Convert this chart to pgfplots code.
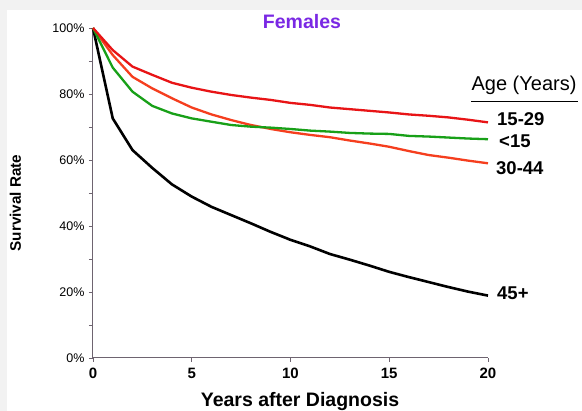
\documentclass[border=0pt]{standalone}
\usepackage{pgfplots}
\pgfplotsset{compat=1.18}
\usepackage{fontspec}
\setmainfont{Liberation Sans}
\definecolor{axgray}{RGB}{110,100,112}
\definecolor{c1529}{RGB}{232,20,22}
\definecolor{c3044}{RGB}{245,62,30}
\definecolor{c15}{RGB}{24,160,24}
\definecolor{ttl}{RGB}{122,40,228}
\definecolor{frame}{RGB}{242,242,242}
\begin{document}
\begin{tikzpicture}
\fill[frame] (-93pt,-53pt) rectangle (489pt,358pt);
\fill[white] (-86pt,-53pt) rectangle (489pt,348pt);
\begin{axis}[
  at={(0pt,0pt)}, anchor=south west,
  scale only axis, width=395pt, height=330pt,
  xmin=0, xmax=20, ymin=0, ymax=100,
  axis lines=left, axis line style={axgray, line width=1pt, -},
  tick align=outside, major tick length=4pt, minor tick length=4pt,
  tick style={axgray, line width=0.8pt},
  xtick={0,5,10,15,20}, xticklabels={0,5,10,15,20},
  ytick={0,20,40,60,80,100}, yticklabels={0\%,20\%,40\%,60\%,80\%,100\%},
  minor ytick={10,30,50,70,90},
  x tick label style={font=\bfseries\fontsize{15}{15}\selectfont, yshift=-3pt},
  y tick label style={font=\fontsize{12.5}{12.5}\selectfont, xshift=-1pt},
  clip=false,
]
\addplot[black, line width=2.6pt] coordinates {
(0,100) (1,72.6) (2,63) (3,57.6) (4,52.6) (5,48.9) (6,45.8) (7,43.3) (8,40.8) (9,38.2) (10,35.8) (11,33.8) (12,31.5) (13,29.8) (14,28) (15,26.1) (16,24.5) (17,23) (18,21.5) (19,20.1) (20,18.9)};
\addplot[c3044, line width=2.3pt] coordinates {
(0,100) (1,91.8) (2,85.2) (3,81.7) (4,78.7) (5,75.9) (6,73.8) (7,72.1) (8,70.6) (9,69.4) (10,68.4) (11,67.6) (12,66.9) (13,65.9) (14,65) (15,64) (16,62.7) (17,61.5) (18,60.7) (19,59.8) (20,59)};
\addplot[c15, line width=2.3pt] coordinates {
(0,100) (1,88) (2,80.7) (3,76.4) (4,74.1) (5,72.6) (6,71.6) (7,70.6) (8,70.1) (9,69.8) (10,69.4) (11,68.9) (12,68.6) (13,68.2) (14,68) (15,67.9) (16,67.3) (17,67.1) (18,66.8) (19,66.5) (20,66.3)};
\addplot[c1529, line width=2.3pt] coordinates {
(0,100) (1,93.3) (2,88.3) (3,85.8) (4,83.4) (5,81.9) (6,80.7) (7,79.7) (8,78.9) (9,78.2) (10,77.3) (11,76.7) (12,75.9) (13,75.4) (14,74.9) (15,74.4) (16,73.8) (17,73.4) (18,72.9) (19,72.2) (20,71.4)};
\end{axis}
\node[font=\bfseries\fontsize{19.5}{19.5}\selectfont, text=ttl] at (209pt,336pt) {Females};
\node[font=\bfseries\fontsize{15.3}{15.3}\selectfont, rotate=90] at (-77.5pt,155pt) {Survival Rate};
\node[font=\bfseries\fontsize{19.5}{19.5}\selectfont] at (207pt,-44pt) {Years after Diagnosis};
\node[font=\fontsize{20}{20}\selectfont] at (431pt,273pt) {Age (Years)};
\draw[black, line width=0.8pt] (378pt,256.5pt) -- (485pt,256.5pt);
\node[font=\bfseries\fontsize{18.5}{18.5}\selectfont, anchor=west, inner sep=0pt] at (404pt,239pt) {15-29};
\node[font=\bfseries\fontsize{18.5}{18.5}\selectfont, anchor=west, inner sep=0pt] at (406pt,217pt) {<15};
\node[font=\bfseries\fontsize{18.5}{18.5}\selectfont, anchor=west, inner sep=0pt] at (403pt,190pt) {30-44};
\node[font=\bfseries\fontsize{18.5}{18.5}\selectfont, anchor=west, inner sep=0pt] at (404pt,65pt) {45+};
\pgfresetboundingbox
\useasboundingbox (-93pt,-53pt) rectangle (489pt,358pt);
\end{tikzpicture}
\end{document}
